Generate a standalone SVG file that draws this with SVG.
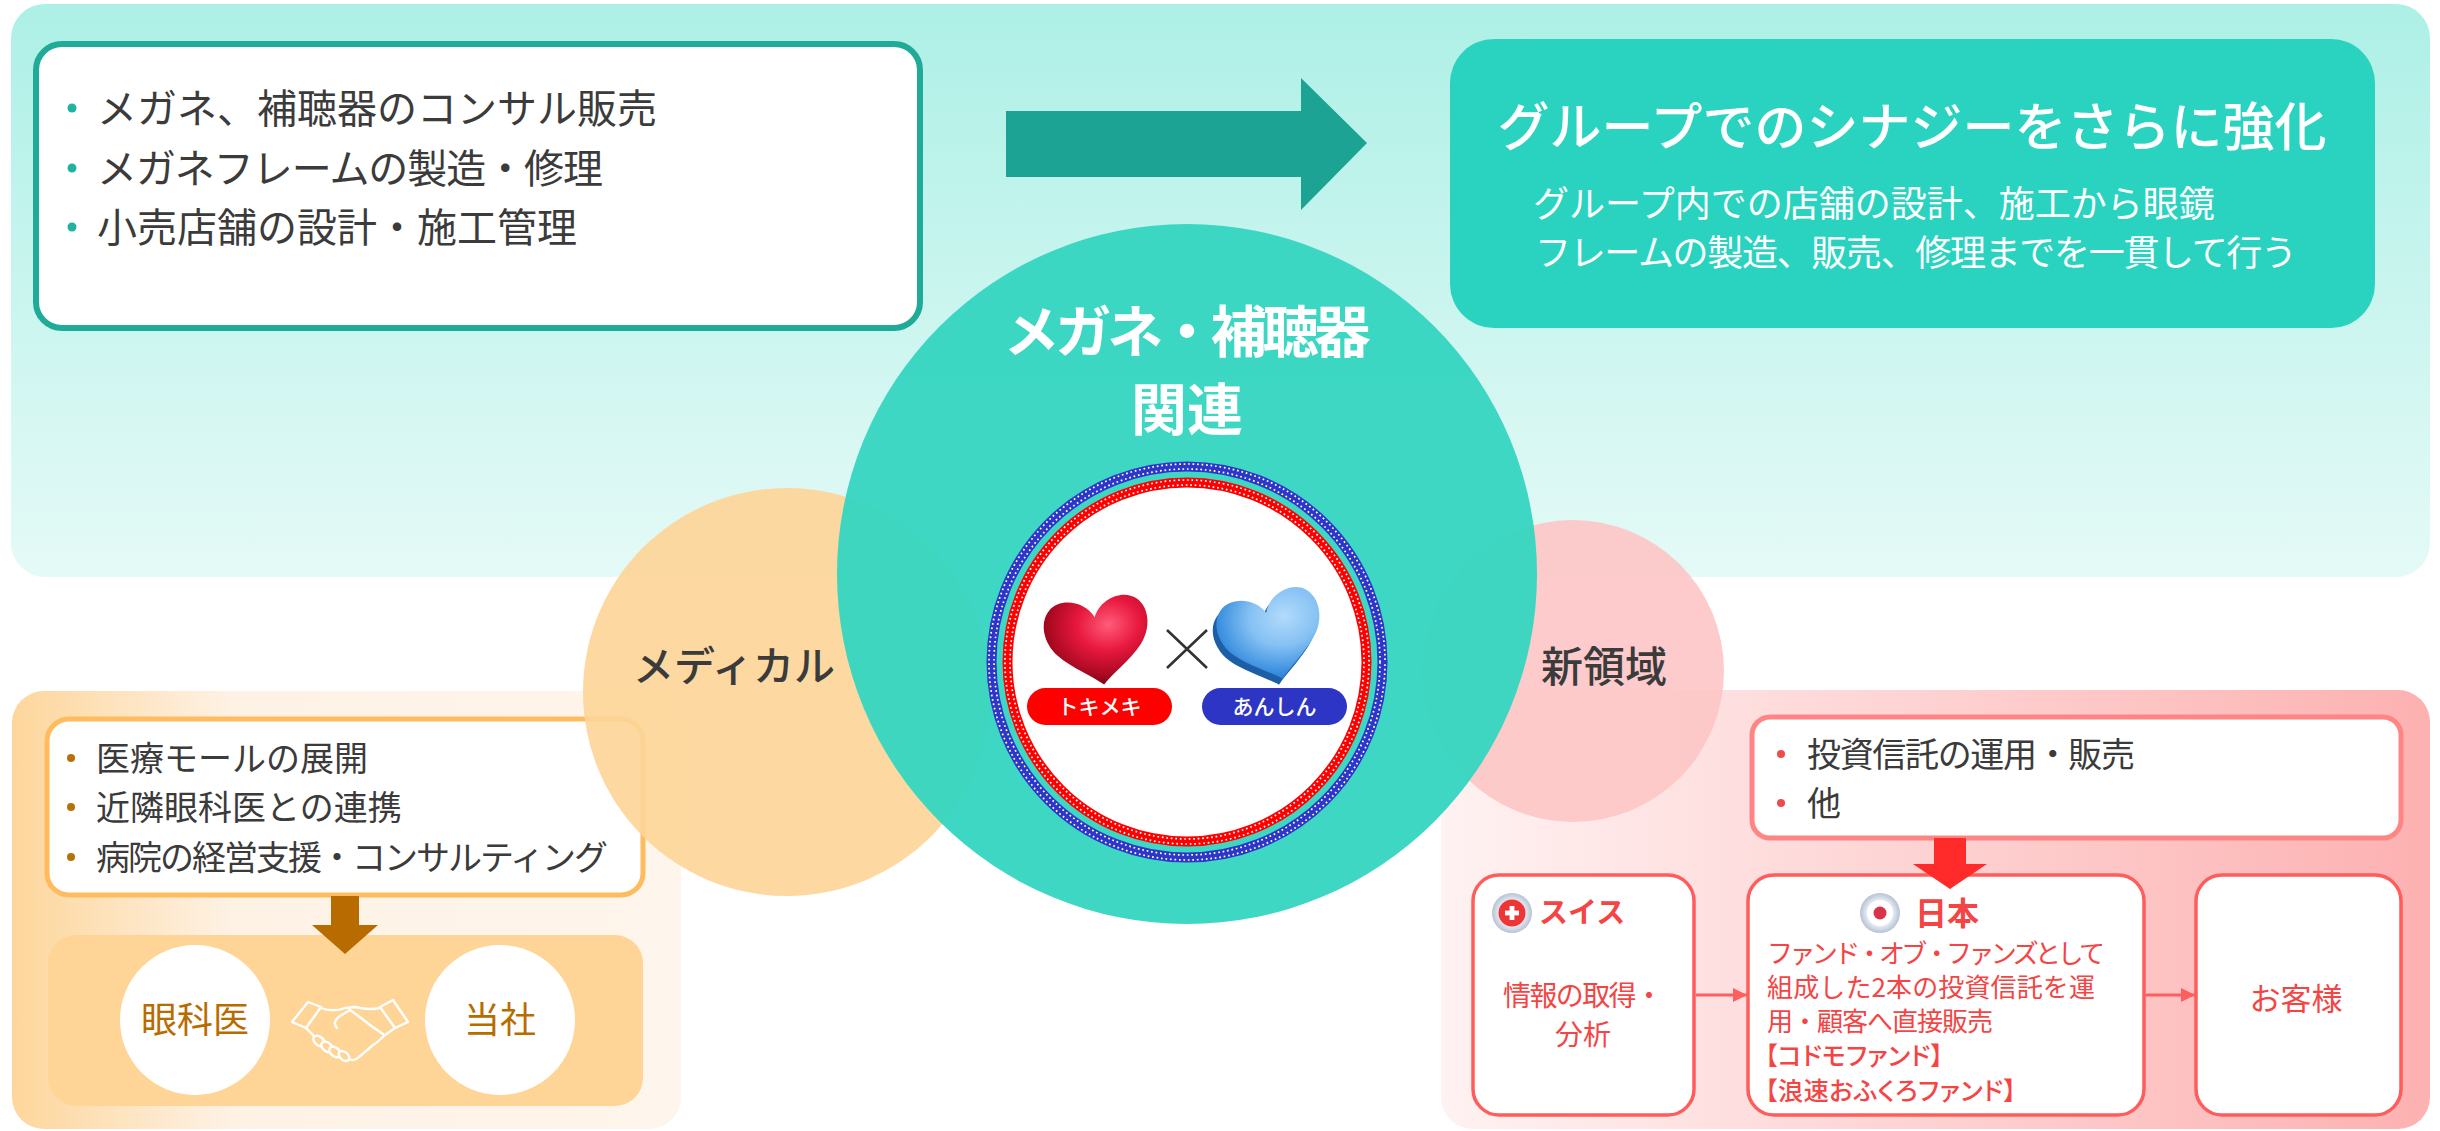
<svg xmlns="http://www.w3.org/2000/svg" width="2440" height="1131" viewBox="0 0 2440 1131">
  <defs>
    <style>
      .t { font-family: "Noto Sans CJK JP", "Noto Sans", sans-serif; }
      .palt { font-feature-settings: "palt" 1; }
      .dark { fill: #3b3b3b; }
      .white { fill: #ffffff; }
      .brown { fill: #b86c00; }
      .red { fill: #f54444; }
      .box-teal { fill: #ffffff; stroke: #1fab98; stroke-width: 6; }
      .box-orange { fill: #ffffff; stroke: #ffbc5e; stroke-width: 5; }
      .box-pink { fill: #ffffff; stroke: #ff8585; stroke-width: 5; }
      .box-red { fill: #ffffff; stroke: #ff5c5c; stroke-width: 3.5; }
      .link { stroke: #ff5e5e; stroke-width: 3; fill: none; }
      .hand { fill: #fed596; stroke: #ffffff; stroke-width: 2.4; stroke-linejoin: round; stroke-linecap: round; }
      .dots { fill: none; stroke: #ffffff; stroke-width: 1.7; stroke-dasharray: 1.7 2.8; }
    </style>
    <linearGradient id="gTop" x1="0" y1="0" x2="0" y2="1">
      <stop offset="0" stop-color="#adf0e6"/>
      <stop offset="1" stop-color="#e5faf7"/>
    </linearGradient>
    <linearGradient id="gMed" x1="0" y1="0" x2="1" y2="0">
      <stop offset="0" stop-color="#fdd69b"/>
      <stop offset="0.33" stop-color="#fef2e5"/>
      <stop offset="1" stop-color="#fef5ec"/>
    </linearGradient>
    <linearGradient id="gNew" x1="0" y1="0" x2="1" y2="0">
      <stop offset="0" stop-color="#fff2f2"/>
      <stop offset="1" stop-color="#fdb1b1"/>
    </linearGradient>
    <radialGradient id="gRed" cx="0.62" cy="0.32" r="0.75">
      <stop offset="0" stop-color="#ff5c7a"/>
      <stop offset="0.4" stop-color="#e8183e"/>
      <stop offset="0.8" stop-color="#a3081f"/>
      <stop offset="1" stop-color="#5e0010"/>
    </radialGradient>
    <radialGradient id="gBlue" cx="0.66" cy="0.3" r="0.75">
      <stop offset="0" stop-color="#b2dbfb"/>
      <stop offset="0.45" stop-color="#85c1f3"/>
      <stop offset="0.85" stop-color="#3b8fe0"/>
      <stop offset="1" stop-color="#2a78cc"/>
    </radialGradient>
    <radialGradient id="gBezel" cx="0.5" cy="0.5" r="0.5">
      <stop offset="0.6" stop-color="#eef2f7"/>
      <stop offset="1" stop-color="#b6c2d4"/>
    </radialGradient>
    <path id="heart" d="M0,-24 C-8,-42 -32,-48 -44,-37 C-56,-26 -54,-5 -42,9 C-30,23 -9,35 0,44 C9,35 30,23 42,9 C54,-5 56,-26 44,-37 C32,-48 8,-42 0,-24 Z"/>
    <marker id="arrowRed" markerUnits="userSpaceOnUse" markerWidth="15" markerHeight="15" refX="14" refY="7" orient="auto">
      <path d="M0,0 L14,7 L0,14 Z" fill="#ff5e5e"/>
    </marker>
  </defs>

  <!-- background panels -->
  <rect id="panel-glasses" x="11" y="4" width="2419" height="573" rx="34" fill="url(#gTop)"/>
  <rect id="panel-medical" x="12" y="691" width="669" height="438" rx="32" fill="url(#gMed)"/>
  <rect id="panel-new" x="1441" y="690" width="989" height="439" rx="32" fill="url(#gNew)"/>

  <!-- glasses / hearing aid services -->
  <g id="box-services">
    <rect class="box-teal" x="36" y="44" width="884" height="284" rx="26"/>
    <g fill="#21b3a1">
      <circle cx="72" cy="108" r="4.5"/>
      <circle cx="72" cy="168" r="4.5"/>
      <circle cx="72" cy="227" r="4.5"/>
    </g>
    <text class="t dark" font-size="40" x="97" y="123">メガネ、補聴器のコンサル販売</text>
    <text class="t dark" font-size="40" x="97" y="183" textLength="506" lengthAdjust="spacing">メガネフレームの製造・修理</text>
    <text class="t dark" font-size="40" x="97" y="242">小売店舗の設計・施工管理</text>
  </g>

  <g id="box-synergy">
    <rect x="1450" y="39" width="925" height="289" rx="44" fill="#29d3bf"/>
    <text class="t white" font-size="52" font-weight="500" x="1912" y="146" text-anchor="middle">グループでのシナジーをさらに強化</text>
    <text class="t white" font-size="36" x="1533" y="217">グループ内での店舗の設計、施工から眼鏡</text>
    <text class="t white" font-size="36" x="1535" y="266" textLength="762" lengthAdjust="spacing">フレームの製造、販売、修理までを一貫して行う</text>
  </g>

  <!-- medical -->
  <g id="box-medical">
    <rect class="box-orange" x="47" y="719" width="596" height="176" rx="22"/>
    <g fill="#b8700a">
      <circle cx="71" cy="758" r="4"/>
      <circle cx="71" cy="807" r="4"/>
      <circle cx="71" cy="857" r="4"/>
    </g>
    <text class="t dark" font-size="34" x="96" y="771">医療モールの展開</text>
    <text class="t dark" font-size="34" x="96" y="820">近隣眼科医との連携</text>
    <text class="t dark" font-size="34" x="96" y="870" textLength="512" lengthAdjust="spacing">病院の経営支援・コンサルティング</text>
  </g>

  <g id="partnership">
    <rect x="48" y="935" width="595" height="171" rx="28" fill="#fed596"/>
    <g id="node-eye">
      <circle cx="195" cy="1020" r="75" fill="#ffffff"/>
      <text class="t brown" font-size="36" x="195" y="1033" text-anchor="middle">眼科医</text>
    </g>
    <g id="node-company">
      <circle cx="500" cy="1020" r="75" fill="#ffffff"/>
      <text class="t brown" font-size="36" x="500" y="1033" text-anchor="middle">当社</text>
    </g>
    <g id="handshake" transform="translate(293,999)">
      <path class="hand" d="M28,9 C36,12 44,12 52,9 L62,8 C70,10 78,11 87,9"/>
      <path class="hand" d="M102,29 L92,36 C88,40 84,44 80,46 L66,58 C62,62 58,62 55,59"/>
      <path class="hand" d="M44,29 C40,25 42,20 47,17 L57,11 L68,19 C74,24 82,30 90,35"/>
      <path class="hand" d="M13,29 L22,38"/>
      <ellipse class="hand" cx="26" cy="42" rx="6.5" ry="4.3" transform="rotate(40 26 42)"/>
      <ellipse class="hand" cx="34" cy="48" rx="6.5" ry="4.3" transform="rotate(40 34 48)"/>
      <ellipse class="hand" cx="42" cy="53" rx="6.5" ry="4.3" transform="rotate(40 42 53)"/>
      <ellipse class="hand" cx="51" cy="57" rx="6" ry="4" transform="rotate(40 51 57)"/>
      <path class="hand" d="M-1,23 L15,3 L28,8 L13,29 Z"/>
      <path class="hand" d="M87,8 L100,1 L115,23 L102,29 Z"/>
    </g>
  </g>

  <!-- new business -->
  <g id="box-invest">
    <rect class="box-pink" x="1752" y="717" width="649" height="121" rx="18"/>
    <g fill="#ee4b4b">
      <circle cx="1781" cy="754" r="4"/>
      <circle cx="1781" cy="803" r="4"/>
    </g>
    <text class="t dark" font-size="34" x="1807" y="767" textLength="328" lengthAdjust="spacing">投資信託の運用・販売</text>
    <text class="t dark" font-size="34" x="1807" y="816">他</text>
  </g>

  <g id="node-swiss">
    <rect class="box-red" x="1473" y="875" width="221" height="240" rx="26"/>
    <circle cx="1512" cy="913" r="20" fill="url(#gBezel)"/>
    <circle cx="1512" cy="913" r="13.5" fill="#ee3434"/>
    <rect x="1509.6" y="906" width="4.8" height="14" fill="#ffffff"/>
    <rect x="1505" y="910.6" width="14" height="4.8" fill="#ffffff"/>
    <text class="t red" font-size="29" font-weight="700" x="1539" y="923">スイス</text>
    <text class="t red" font-size="28" x="1583" y="1006" text-anchor="middle" textLength="160" lengthAdjust="spacing">情報の取得・</text>
    <text class="t red" font-size="28" x="1583" y="1045" text-anchor="middle">分析</text>
  </g>

  <g id="node-japan">
    <rect class="box-red" x="1748" y="875" width="396" height="240" rx="26"/>
    <circle cx="1880" cy="913" r="20" fill="url(#gBezel)"/>
    <circle cx="1880" cy="913" r="13" fill="#ffffff"/>
    <circle cx="1880" cy="913" r="6.5" fill="#d9334a"/>
    <text class="t red" font-size="32" font-weight="700" x="1915" y="925">日本</text>
    <text class="t red" font-size="26" x="1767" y="963" textLength="338" lengthAdjust="spacing">ファンド・オブ・ファンズとして</text>
    <text class="t red" font-size="26" x="1767" y="997" textLength="328" lengthAdjust="spacing">組成した2本の投資信託を運</text>
    <text class="t red" font-size="26" x="1767" y="1031" textLength="226" lengthAdjust="spacing">用・顧客へ直接販売</text>
    <text class="t red palt" font-size="25" font-weight="500" x="1765" y="1065" textLength="178" lengthAdjust="spacing">【コドモファンド】</text>
    <text class="t red palt" font-size="25" font-weight="500" x="1765" y="1100" textLength="251" lengthAdjust="spacing">【浪速おふくろファンド】</text>
  </g>

  <g id="node-customer">
    <rect class="box-red" x="2196" y="875" width="205" height="240" rx="26"/>
    <text class="t red" font-size="31" x="2296" y="1010" text-anchor="middle">お客様</text>
  </g>

  <!-- connectors -->
  <g id="connectors">
    <path d="M1006,111 L1301,111 L1301,78 L1367,143 L1301,210 L1301,177 L1006,177 Z" fill="#1ca393"/>
    <path d="M331,896 L359,896 L359,925 L378,925 L345,954 L312,925 L331,925 Z" fill="#b86c00"/>
    <path d="M1934,838 L1966,838 L1966,864 L1987,864 L1950,889 L1913,864 L1934,864 Z" fill="#ff2a2a"/>
    <line class="link" x1="1696" y1="995" x2="1747" y2="995" marker-end="url(#arrowRed)"/>
    <line class="link" x1="2146" y1="995" x2="2195" y2="995" marker-end="url(#arrowRed)"/>
  </g>

  <!-- domain circles -->
  <g id="circle-medical">
    <circle cx="787" cy="692" r="204" fill="#fdd598" fill-opacity="0.92"/>
    <text class="t dark" font-size="41" font-weight="500" x="734" y="681" text-anchor="middle">メディカル</text>
  </g>
  <g id="circle-new">
    <circle cx="1573" cy="671" r="151" fill="#fdc5c5" fill-opacity="0.9"/>
    <text class="t dark" font-size="42" font-weight="500" x="1604" y="682" text-anchor="middle">新領域</text>
  </g>

  <g id="circle-glasses">
    <circle cx="1187" cy="574" r="350" fill="#36d5c1" fill-opacity="0.96"/>
    <text class="t white" font-size="56" font-weight="700" x="1187" y="352" text-anchor="middle" textLength="367" lengthAdjust="spacing">メガネ・補聴器</text>
    <text class="t white" font-size="56" font-weight="700" x="1187" y="430" text-anchor="middle">関連</text>

    <!-- dotted rings: blue outer, red inner -->
    <circle cx="1187" cy="662" r="195.5" fill="none" stroke="#2e36c8" stroke-width="10"/>
    <circle class="dots" cx="1187" cy="662" r="193"/>
    <circle class="dots" cx="1187" cy="662" r="198" stroke-dashoffset="2.2"/>
    <circle cx="1187" cy="662" r="179.5" fill="#ffffff" stroke="#ff0000" stroke-width="10"/>
    <circle class="dots" cx="1187" cy="662" r="177"/>
    <circle class="dots" cx="1187" cy="662" r="182" stroke-dashoffset="2.2"/>

    <g transform="translate(1098,641) rotate(-8)">
      <use href="#heart" fill="url(#gRed)"/>
    </g>
    <g transform="translate(1272,636) rotate(-14)">
      <use href="#heart" transform="translate(-5,5)" fill="#1d5fa6"/>
      <use href="#heart" fill="url(#gBlue)"/>
    </g>
    <path d="M1167,630 L1207,668 M1207,630 L1167,668" stroke="#333333" stroke-width="2.6" fill="none"/>

    <rect x="1027" y="688" width="145" height="37" rx="18.5" fill="#ff0000"/>
    <text class="t white" font-size="21" font-weight="500" x="1099.5" y="714" text-anchor="middle">トキメキ</text>
    <rect x="1202" y="688" width="145" height="37" rx="18.5" fill="#2d35c4"/>
    <text class="t white" font-size="21" font-weight="500" x="1274.5" y="714" text-anchor="middle">あんしん</text>
  </g>
</svg>
